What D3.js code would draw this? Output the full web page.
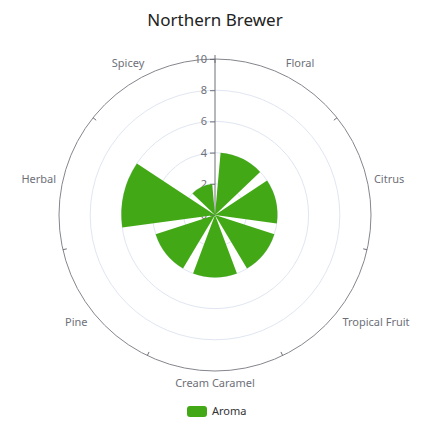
<!DOCTYPE html>
<html>
<head>
<meta charset="utf-8">
<script src="https://cdn.jsdelivr.net/npm/d3@7"></script>
<style>
  body { margin: 0; background: #fff; }
  #graph { width: 430px; height: 430px; }
  text { font-family: "Noto Sans", "Open Sans", sans-serif; }
</style>
</head>
<body>
<div id="graph"></div>
<script>
// data
var categories = ["Floral", "Citrus", "Tropical Fruit", "Cream Caramel", "Pine", "Herbal", "Spicey"];
var aroma = [4, 4, 4, 4, 4, 6, 2];
var radiusTicks = [0, 2, 4, 6, 8, 10];
var seriesName = "Aroma";
var title = "Northern Brewer";

var width = 430, height = 430;
var cx = 215, cy = 215, outer = 156;
var green = "#43a816";
var axisGray = "#6E7079";

var svg = d3.select("#graph").append("svg")
  .attr("width", width).attr("height", height);

// title
svg.append("text")
  .attr("x", width / 2).attr("y", 26)
  .attr("text-anchor", "middle")
  .attr("font-size", 17)
  .attr("font-family", "Lato, sans-serif")
  .attr("fill", "#222")
  .text(title);

// scales
var rScale = d3.scaleLinear().domain([0, 10]).range([0, outer]);
var angle = d3.scaleBand().domain(categories).range([0, 2 * Math.PI])
  .paddingInner(0.2).paddingOuter(0.1);
var step = angle.step();

var chart = svg.append("g").attr("transform", "translate(" + [cx, cy] + ")");

// split circles
chart.append("g").selectAll("circle")
  .data(radiusTicks.filter(function(d) { return d > 0 && d < 10; }))
  .join("circle")
  .attr("r", function(d) { return rScale(d); })
  .attr("fill", "none")
  .attr("stroke", "#E0E6F1");

// angle axis line
chart.append("circle")
  .attr("r", outer)
  .attr("fill", "none")
  .attr("stroke", "#85868e")
  .attr("stroke-width", 1);

// angle axis ticks (category boundaries)
chart.append("g").selectAll("line")
  .data(d3.range(categories.length))
  .join("line")
  .attr("x1", function(i) { return Math.sin(i * step) * outer; })
  .attr("y1", function(i) { return -Math.cos(i * step) * outer; })
  .attr("x2", function(i) { return Math.sin(i * step) * (outer - 4); })
  .attr("y2", function(i) { return -Math.cos(i * step) * (outer - 4); })
  .attr("stroke", axisGray);

// angle axis labels
chart.append("g").selectAll("text")
  .data(categories)
  .join("text")
  .each(function(d) {
    var a = angle(d) + angle.bandwidth() / 2;
    var s = Math.sin(a), c = Math.cos(a);
    var r = outer + 7;
    var anchor = Math.abs(s) < 0.01 ? "middle" : (s > 0 ? "start" : "end");
    var dy = Math.abs(c) < 0.3 ? "0.35em" : (c > 0 ? "-0.1em" : "0.85em");
    d3.select(this)
      .attr("x", s * r).attr("y", -c * r)
      .attr("dy", dy)
      .attr("text-anchor", anchor);
  })
  .attr("font-size", 11)
  .attr("fill", axisGray)
  .text(function(d) { return d; });

// radius axis
var yAxisScale = d3.scaleLinear().domain([0, 10]).range([0, -outer]);
var rAxis = chart.append("g")
  .attr("class", "axis r")
  .call(d3.axisLeft(yAxisScale).tickValues(radiusTicks).tickSize(5).tickPadding(3));
rAxis.select(".domain").attr("stroke", axisGray).attr("d", "M0,0V" + (-outer - 4));
rAxis.selectAll(".tick line").attr("stroke", axisGray);
rAxis.selectAll(".tick text")
  .attr("fill", axisGray)
  .attr("font-size", 11)
  .attr("font-family", "Noto Sans, sans-serif");

// bars
var arc = d3.arc()
  .innerRadius(0)
  .outerRadius(function(d, i) { return rScale(d.v); })
  .startAngle(function(d) { return angle(d.c); })
  .endAngle(function(d) { return angle(d.c) + angle.bandwidth(); });

chart.append("g").selectAll("path")
  .data(categories.map(function(c, i) { return { c: c, v: aroma[i] }; }))
  .join("path")
  .attr("d", arc)
  .attr("fill", green);

// legend
var legend = svg.append("g").attr("transform", "translate(187,406)");
legend.append("rect")
  .attr("width", 20).attr("height", 11).attr("rx", 3)
  .attr("fill", green);
legend.append("text")
  .attr("x", 25).attr("y", 5.5).attr("dy", "0.35em")
  .attr("font-size", 11)
  .attr("fill", "#333")
  .text(seriesName);
</script>
</body>
</html>
